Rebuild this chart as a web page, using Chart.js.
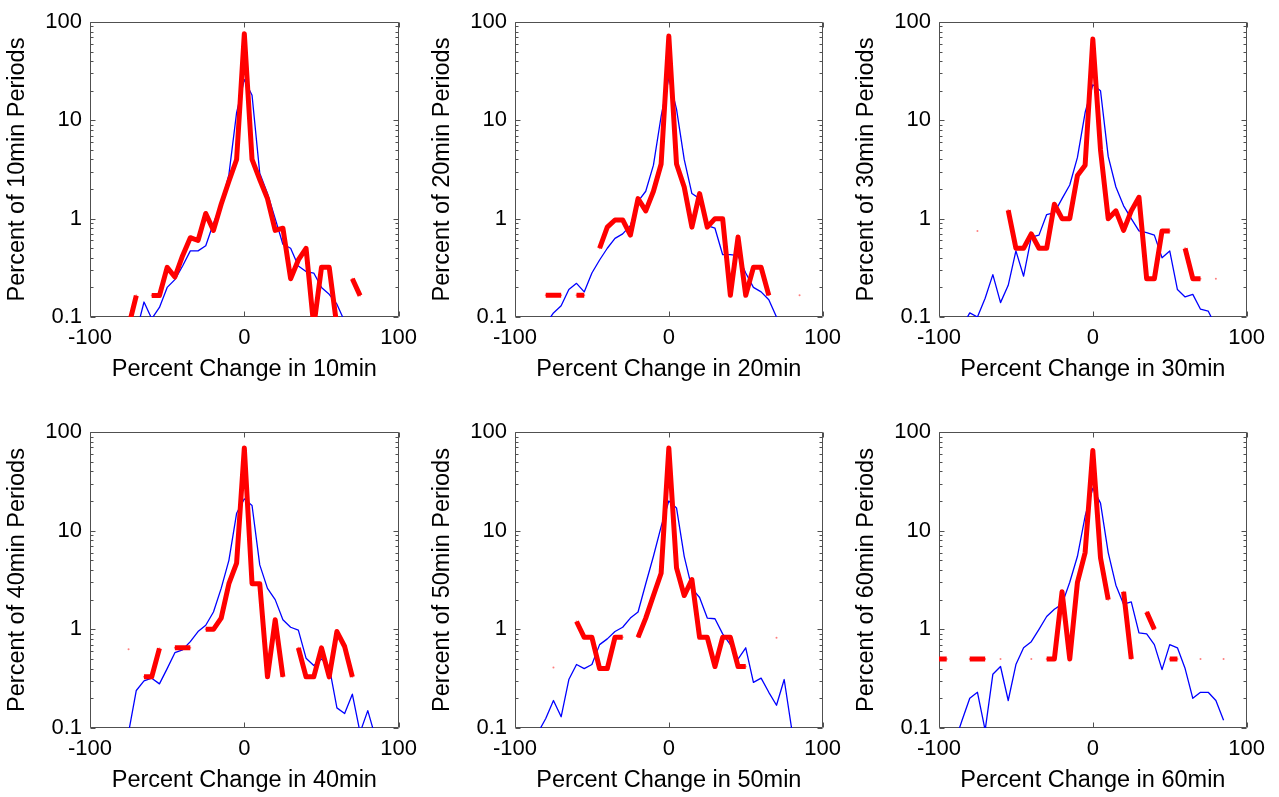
<!DOCTYPE html>
<html><head><meta charset="utf-8">
<script src="https://cdn.jsdelivr.net/npm/chart.js@4.4.1/dist/chart.umd.min.js"></script>
<style>
html,body{margin:0;padding:0;background:#fff;overflow:hidden;width:1279px;height:797px;}
.panel{position:absolute;}
.panel canvas{display:block;}
</style></head><body>
<script>
// ---- data ----
const pctChange = [-100,-95,-90,-85,-80,-75,-70,-65,-60,-55,-50,-45,-40,-35,-30,-25,-20,-15,-10,-5,0,5,10,15,20,25,30,35,40,45,50,55,60,65,70,75,80,85,90,95,100];
const xTickValues = [-100, 0, 100];
const yTickValues = [0.1, 1, 10, 100];
const yMinorTicks = [0.2,0.3,0.4,0.5,0.6,0.7,0.8,0.9,2,3,4,5,6,7,8,9,20,30,40,50,60,70,80,90];
const intervals = ['10min','20min','30min','40min','50min','60min'];

const blue10 = [null,null,null,null,null,null,0.07,0.142,0.096,0.125,0.2,0.24,0.33,0.47,0.47,0.53,0.9,1.4,2.8,12,26,18,2.9,1.8,1.0,0.55,0.5,0.33,0.29,0.28,0.2,0.17,0.135,0.09,null,null,null,null,null,null,null];
const red10  = [null,null,null,null,null,0.08,0.165,null,0.165,0.165,0.32,0.255,0.42,0.64,0.6,1.13,0.76,1.4,2.4,4.0,76,4.0,2.5,1.6,0.76,0.8,0.245,0.38,0.5,0.08,0.32,0.32,0.08,null,0.245,0.165,null,null,null,null,null];

const blue20 = [null,null,null,null,0.085,0.11,0.13,0.19,0.22,0.18,0.28,0.38,0.5,0.63,0.7,0.85,1.5,1.9,3.5,11,27,13,4,1.8,1.6,0.85,0.8,0.43,0.43,0.42,0.28,0.2,0.18,0.15,0.1,0.07,null,null,null,null,null];
const red20  = [null,null,null,null,0.166,0.166,0.166,null,0.166,0.166,null,0.5,0.82,0.97,0.97,0.68,1.6,1.2,1.9,3.6,72,3.6,2.1,0.82,1.8,0.82,1.0,1.0,0.166,0.65,0.166,0.32,0.32,0.166,null,null,null,0.166,null,null,null];

const blue30 = [null,null,null,0.08,0.11,0.1,0.155,0.27,0.14,0.21,0.47,0.26,0.65,0.68,1.1,1.15,1.6,2.2,4.2,12,23,20,4.3,2.1,1.35,1.0,0.75,0.72,0.68,0.4,0.47,0.19,0.16,0.17,0.12,0.115,0.08,null,null,null,null];
const red30  = [null,null,null,null,null,0.75,null,null,null,1.22,0.5,0.5,0.7,0.5,0.5,1.4,1.0,1.0,2.75,3.5,67,5,1.0,1.2,0.76,1.2,1.65,0.245,0.245,0.75,0.75,null,0.5,0.245,0.245,null,0.245,null,null,null,null];

const blue40 = [null,null,null,null,0.09,0.09,0.24,0.3,0.32,0.28,0.4,0.58,0.62,0.75,0.95,1.1,1.5,2.6,5,15,21,18,4.5,2.6,2.0,1.25,1.05,0.98,0.51,0.43,0.5,0.42,0.16,0.14,0.22,0.09,0.15,0.08,null,null,null];
const red40  = [null,null,null,null,null,0.63,null,0.33,0.33,0.64,null,0.65,0.65,0.65,null,1.0,1.0,1.3,2.9,4.7,69,2.9,2.9,0.33,1.25,0.33,null,0.65,0.33,0.33,0.65,0.33,0.95,0.67,0.33,null,null,null,null,null,null];

const blue50 = [null,null,null,0.09,0.125,0.19,0.13,0.31,0.44,0.4,0.44,0.7,0.8,0.95,1.05,1.3,1.5,2.9,5.5,11,20,17,5.5,2.6,2.1,1.3,1.28,0.9,0.7,0.5,0.65,0.29,0.32,0.23,0.17,0.31,0.095,null,null,null,null];
const red50  = [null,null,null,null,null,0.41,null,null,1.2,0.83,0.83,0.4,0.4,0.83,0.83,null,0.83,1.3,2.2,3.7,69,4.2,2.2,3.2,0.83,0.83,0.42,0.83,0.83,0.42,0.42,null,null,null,0.82,null,null,null,null,null,null];

const blue60 = [null,null,0.07,0.12,0.2,0.23,0.095,0.35,0.42,0.19,0.44,0.65,0.75,1.0,1.35,1.6,1.8,3.0,5.5,14,27,19,6,2.8,1.8,1.9,0.92,0.9,0.7,0.39,0.7,0.65,0.4,0.2,0.23,0.23,0.19,0.12,null,null,null];
const red60  = [0.5,0.5,null,null,0.5,0.5,0.5,null,0.5,null,null,null,0.5,null,0.5,0.5,2.4,0.5,3,6,65,5.3,2.0,null,2.4,0.5,null,1.5,1.0,null,0.5,0.5,null,null,0.5,null,null,0.5,null,null,null];

const blueSeries = [blue10, blue20, blue30, blue40, blue50, blue60];
const redSeries  = [red10, red20, red30, red40, red50, red60];

// ---- layout (plot-area boxes in page pixels) ----
const plotBoxes = [
  [90, 22, 400, 317], [515, 22, 824, 317], [939, 22, 1248, 317],
  [90, 432, 400, 728], [515, 432, 824, 728], [939, 432, 1248, 728]
];
const AXIS_W = 90, AXIS_H = 70, PAD_TOP = 22, PAD_RIGHT = 25;

Chart.defaults.font.family = '"Liberation Sans", Arial, Helvetica, sans-serif';
Chart.defaults.color = '#000';

const frameTicks = {
  id: 'frameTicks',
  beforeDatasetsDraw(chart) {
    const {ctx, chartArea: a, scales: {x, y}} = chart;
    const L = Math.round(a.left) + 0.5, R = Math.round(a.right) - 0.5;
    const T = Math.round(a.top) + 0.5, B = Math.round(a.bottom) - 0.5;
    ctx.save();
    ctx.strokeStyle = '#505050';
    ctx.lineWidth = 1;
    ctx.beginPath();
    ctx.rect(L, T, R - L, B - T);
    for (const v of yMinorTicks) {
      const p = Math.round(y.getPixelForValue(v)) + 0.5;
      ctx.moveTo(L, p); ctx.lineTo(L + 3, p);
      ctx.moveTo(R, p); ctx.lineTo(R - 3, p);
    }
    for (const v of yTickValues) {
      const p = Math.round(y.getPixelForValue(v)) + 0.5;
      ctx.moveTo(L, p); ctx.lineTo(L + 5, p);
      ctx.moveTo(R, p); ctx.lineTo(R - 5, p);
    }
    for (const v of xTickValues) {
      const p = Math.round(x.getPixelForValue(v)) + 0.5;
      ctx.moveTo(p, B); ctx.lineTo(p, B - 5);
      ctx.moveTo(p, T); ctx.lineTo(p, T + 5);
    }
    ctx.stroke();
    ctx.restore();
  }
};

function toPoints(vals) {
  return pctChange.map((x, i) => ({x: x, y: vals[i]}));
}

intervals.forEach((name, k) => {
  const [pl, pt, pr, pb] = plotBoxes[k];
  const w = (pr - pl) + AXIS_W + PAD_RIGHT;
  const h = (pb - pt) + PAD_TOP + AXIS_H;
  const div = document.createElement('div');
  div.className = 'panel';
  div.style.left = (pl - AXIS_W) + 'px';
  div.style.top = (pt - PAD_TOP) + 'px';
  div.style.width = w + 'px';
  div.style.height = h + 'px';
  const cv = document.createElement('canvas');
  cv.width = w; cv.height = h;
  cv.style.width = w + 'px'; cv.style.height = h + 'px';
  div.appendChild(cv);
  document.body.appendChild(div);

  new Chart(cv, {
    type: 'line',
    data: {
      datasets: [
        {data: toPoints(redSeries[k]), borderColor: '#ff0000', borderWidth: 5,
         borderJoinStyle: 'round',
         pointRadius: 1, pointBackgroundColor: 'rgba(255,0,0,0.5)', pointBorderWidth: 0,
         tension: 0, spanGaps: false, order: 0},
        {data: toPoints(blueSeries[k]), borderColor: '#0000ff', borderWidth: 1.3,
         borderJoinStyle: 'round',
         pointRadius: 0, tension: 0, spanGaps: false, order: 1}
      ]
    },
    options: {
      responsive: false,
      animation: false,
      devicePixelRatio: 1,
      layout: {padding: {left: 0, top: PAD_TOP, right: PAD_RIGHT, bottom: 0}},
      plugins: {legend: {display: false}, tooltip: {enabled: false}},
      events: [],
      scales: {
        x: {
          type: 'linear', min: -100, max: 100,
          afterBuildTicks: s => { s.ticks = xTickValues.map(v => ({value: v})); },
          afterFit: s => { s.height = AXIS_H; },
          grid: {display: false, drawTicks: false},
          border: {display: false},
          ticks: {padding: 8, font: {size: 22}, color: '#000', maxRotation: 0, autoSkip: false,
                  callback: v => String(v)},
          title: {display: true, text: 'Percent Change in ' + name, font: {size: 23.5},
                  color: '#000', padding: {top: 0, bottom: 3}}
        },
        y: {
          type: 'logarithmic', min: 0.1, max: 100,
          afterBuildTicks: s => { s.ticks = yTickValues.map(v => ({value: v})); },
          afterFit: s => { s.width = AXIS_W; },
          grid: {display: false, drawTicks: false},
          border: {display: false},
          ticks: {padding: 8, font: {size: 22}, color: '#000', autoSkip: false,
                  callback: v => String(v)},
          title: {display: true, text: 'Percent of ' + name + ' Periods', font: {size: 23.5},
                  color: '#000', padding: {top: 3.4, bottom: 0}}
        }
      }
    },
    plugins: [frameTicks]
  });
});
</script>
</body></html>
